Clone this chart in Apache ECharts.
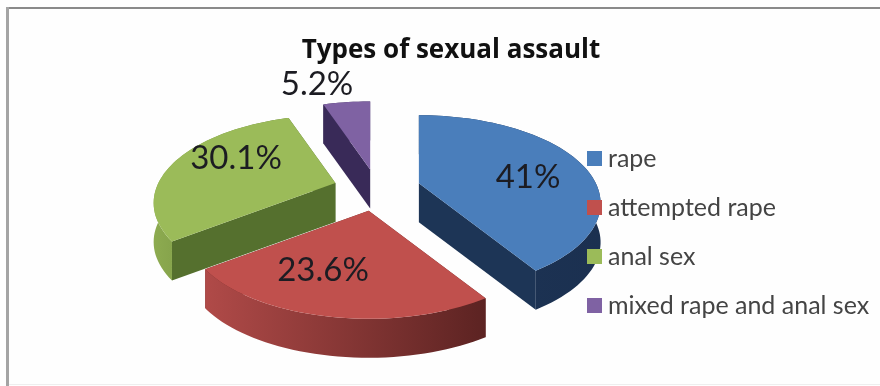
<!DOCTYPE html>
<html>
<head>
<meta charset="utf-8">
<style>html,body{margin:0;padding:0;background:#fff}#chart{width:880px;height:386px}</style>
<script src="https://cdn.jsdelivr.net/npm/echarts@6/dist/echarts.min.js"></script>
</head>
<body>
<div id="chart"></div>
<script>
// Values of the chart
const categories = ['rape', 'attempted rape', 'anal sex', 'mixed rape and anal sex'];
const shares = [41, 23.6, 30.1, 5.2];
const chartTitle = 'Types of sexual assault';

// Slice colours: top face, cut face, and the two ends of the outer wall
const topColors = ['#4a7ebb', '#c0504d', '#9bbb59', '#7f62a3'];
const cutColors = ['#1d3556', '#6b2a28', '#55702e', '#392a58'];
const wallColors = [['#1d3556', '#1b3050'], ['#b04a48', '#5c2322'], ['#8dab50', '#5d7a31'], ['#392a58', '#392a58']];
// Slices are painted back to front
const drawOrder = [3, 2, 0, 1];
// Value label centres
const labelSpots = [[528, 177], [323, 270], [236, 158], [317, 84]];

// Perspective disc used for the tilted pie
const disc = { cx: 377, cy: 189, rx: 177, ry: 83.5, persp: 0.227, explode: 0.25, depth: 39 };

function project(r, deg) {
  const a = deg * Math.PI / 180;
  const s = Math.sin(a) * r, c = -Math.cos(a) * r;
  const w = 1 - disc.persp * c;
  return [disc.rx * s / w, disc.ry * c / w];
}

const total = shares.reduce((a, b) => a + b, 0);

function sliceAngles(index, value) {
  let before = 0;
  for (let i = 0; i < index; i++) before += shares[i];
  const start = before / total * 360;
  return [start, start + value / total * 360];
}

function quad(a, b, depth) {
  return [a, b, [b[0], b[1] + depth], [a[0], a[1] + depth]];
}

function renderSlice(params, api) {
  const idx = categories.indexOf(params.seriesName);
  const value = api.value(0);
  const [start, end] = sliceAngles(idx, value);
  const mid = (start + end) / 2;
  const off = project(disc.explode, mid);
  const apex = [disc.cx + off[0], disc.cy + off[1]];
  const rim = [];
  for (let d = start; ; d += 2) {
    const ang = Math.min(d, end);
    const p = project(1, ang);
    rim.push([apex[0] + p[0], apex[1] + p[1]]);
    if (ang >= end) break;
  }
  const wall = rim.concat(rim.slice().reverse().map(p => [p[0], p[1] + disc.depth]));
  const children = [
    { type: 'polygon', shape: { points: quad(apex, rim[rim.length - 1], disc.depth) }, style: { fill: cutColors[idx] } },
    { type: 'polygon', shape: { points: quad(apex, rim[0], disc.depth) }, style: { fill: cutColors[idx] } },
    {
      type: 'polygon', shape: { points: wall },
      style: {
        fill: {
          type: 'linear', x: 0, y: 0, x2: 1, y2: 0,
          colorStops: [{ offset: 0, color: wallColors[idx][0] }, { offset: 1, color: wallColors[idx][1] }]
        }
      }
    },
    { type: 'polygon', shape: { points: [apex].concat(rim) }, style: { fill: topColors[idx] } },
    {
      type: 'text', z2: 10,
      style: {
        text: value + '%', x: labelSpots[idx][0], y: labelSpots[idx][1],
        align: 'center', verticalAlign: 'middle',
        font: '33px Lato, sans-serif', fill: '#1c1c22'
      }
    }
  ];
  return { type: 'group', children };
}

const chart = echarts.init(document.getElementById('chart'), null, { renderer: 'canvas' });
chart.setOption({
  animation: false,
  backgroundColor: '#fefefe',
  title: {
    text: chartTitle, left: 451, top: 38, textAlign: 'center', padding: 0,
    textStyle: { fontFamily: '"Open Sans", sans-serif', fontWeight: 'bold', fontSize: 26, color: '#111' }
  },
  legend: {
    data: categories, orient: 'vertical', left: 587, top: 146, padding: 0,
    icon: 'rect', itemWidth: 15, itemHeight: 15, itemGap: 24, z: 20,
    textStyle: { fontFamily: 'Lato, sans-serif', fontSize: 25, lineHeight: 24, color: '#444', padding: [0, 0, 0, 1] },
    selectedMode: false
  },
  graphic: [
    { type: 'rect', shape: { x: 6, y: 7, width: 874, height: 2 }, style: { fill: '#8a8a8a' }, silent: true },
    { type: 'rect', shape: { x: 6, y: 7, width: 3, height: 379 }, style: { fill: '#a4a4a4' }, silent: true },
    { type: 'rect', shape: { x: 9, y: 384, width: 871, height: 1 }, style: { fill: '#eeeeee' }, silent: true }
  ],
  color: topColors,
  series: drawOrder.map(i => ({
    type: 'custom',
    name: categories[i],
    coordinateSystem: 'none',
    itemStyle: { color: topColors[i] },
    renderItem: renderSlice,
    data: [[shares[i]]]
  }))
});
</script>
</body>
</html>
